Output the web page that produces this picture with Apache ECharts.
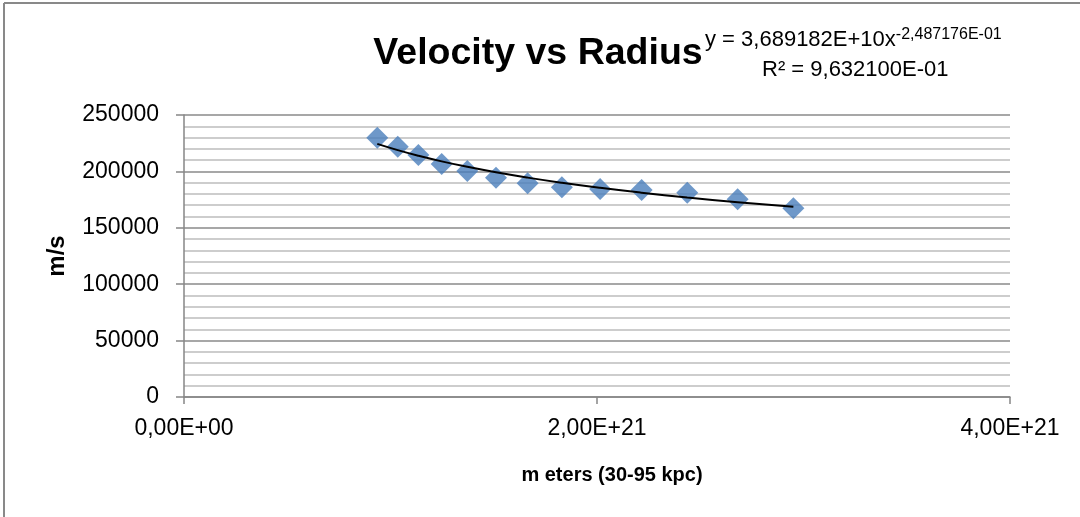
<!DOCTYPE html>
<html>
<head>
<meta charset="utf-8">
<script src="https://cdn.jsdelivr.net/npm/echarts@6/dist/echarts.min.js"></script>
<style>
html,body{margin:0;padding:0;background:#fff;}
#c{width:1080px;height:517px;}
</style>
</head>
<body>
<div id="c"></div>
<script>
// Data
var radiusMeters = [0.936e21, 1.035e21, 1.135e21, 1.248e21, 1.372e21, 1.511e21, 1.664e21, 1.830e21, 2.015e21, 2.216e21, 2.437e21, 2.681e21, 2.951e21];
var velocity = [229900, 221900, 214500, 206600, 200400, 194400, 189400, 185900, 184400, 183500, 181100, 175300, 167300];
var xTicks = [0, 2e21, 4e21];
var yTicks = [0, 50000, 100000, 150000, 200000, 250000];
// Power trendline coefficients as shown on the chart label
var trendA = 3.689182e10;
var trendB = -2.487176e-1;

var titleText = 'Velocity vs Radius';
var eqMain = 'y = 3,689182E+10x';
var eqSup = '-2,487176E-01';
var r2Text = 'R\u00b2 = 9,632100E-01';
var xName = 'm eters (30-95 kpc)';
var yName = 'm/s';

var points = radiusMeters.map(function (x, i) { return [x, velocity[i]]; });
var trend = radiusMeters.map(function (x) { return [x, trendA * Math.pow(x, trendB)]; });

function sci(v) {
  if (v === 0) return '0,00E+00';
  var e = Math.floor(Math.log10(Math.abs(v)) + 1e-9);
  var m = v / Math.pow(10, e);
  var es = (e < 0 ? '-' : '+') + (Math.abs(e) < 10 ? '0' : '') + Math.abs(e);
  return m.toFixed(2).replace('.', ',') + 'E' + es;
}

var FONT = 'Liberation Sans, Arial, sans-serif';
var chart = echarts.init(document.getElementById('c'), null, {renderer: 'canvas'});
chart.setOption({
  backgroundColor: '#ffffff',
  animation: false,
  grid: {left: 184, right: 70, top: 115, bottom: 120, containLabel: false, outerBoundsMode: 'none'},
  xAxis: {
    type: 'value',
    min: xTicks[0], max: xTicks[xTicks.length - 1], interval: xTicks[1] - xTicks[0],
    name: xName, nameLocation: 'middle', nameGap: 68,
    nameTextStyle: {fontFamily: FONT, fontSize: 20, fontWeight: 'bold', color: '#000', padding: [0, 0, 0, 30]},
    axisLine: {show: true, onZero: false, lineStyle: {color: '#868686', width: 1.5}},
    axisTick: {show: true, inside: false, length: 7, lineStyle: {color: '#868686', width: 1.5}},
    axisLabel: {fontFamily: FONT, fontSize: 23, color: '#000', margin: 20, formatter: sci},
    splitLine: {show: false}
  },
  yAxis: {
    type: 'value',
    min: yTicks[0], max: yTicks[yTicks.length - 1], interval: yTicks[1] - yTicks[0],
    name: yName, nameLocation: 'middle', nameGap: 115, nameRotate: 90,
    nameTextStyle: {fontFamily: FONT, fontSize: 24, fontWeight: 'bold', color: '#000'},
    axisLine: {show: true, onZero: false, lineStyle: {color: '#868686', width: 1.5}},
    axisTick: {show: true, inside: false, length: 8, lineStyle: {color: '#868686', width: 1.5}},
    axisLabel: {fontFamily: FONT, fontSize: 23, color: '#000', margin: 25, formatter: function (v) { return String(v); }},
    splitLine: {show: true, lineStyle: {color: '#8a8a8a', width: 1.5}},
    minorTick: {show: false, splitNumber: 5},
    minorSplitLine: {show: true, lineStyle: {color: '#bdbdbd', width: 1.5}}
  },
  series: [
    {
      type: 'scatter',
      data: points,
      symbol: 'diamond',
      symbolSize: 22,
      itemStyle: {color: '#4a7ebb'},
      z: 2
    },
    {
      type: 'line',
      data: trend,
      smooth: true,
      showSymbol: false,
      symbol: 'none',
      lineStyle: {color: '#000', width: 2},
      z: 3
    }
  ],
  graphic: [
    {type: 'line', shape: {x1: 4, y1: 3, x2: 4, y2: 517}, style: {stroke: '#898989', lineWidth: 2}, silent: true},
    {type: 'line', shape: {x1: 4, y1: 3, x2: 1080, y2: 3}, style: {stroke: '#898989', lineWidth: 2}, silent: true},
    {type: 'text', x: 538, y: 54, style: {text: titleText, font: 'bold 37.5px ' + FONT, fill: '#000', textAlign: 'center', textVerticalAlign: 'middle'}, z: 10},
    {type: 'text', x: 705, y: 27, z: 10, style: {
      text: '{a|' + eqMain + '}{b|' + eqSup + '}',
      textAlign: 'left', textVerticalAlign: 'top',
      rich: {
        a: {fontFamily: FONT, fontSize: 22, color: '#000', lineHeight: 24, verticalAlign: 'bottom'},
        b: {fontFamily: FONT, fontSize: 16, color: '#000', lineHeight: 24, verticalAlign: 'top'}
      }
    }},
    {type: 'text', x: 762, y: 70, z: 10, style: {text: r2Text, font: '22px ' + FONT, fill: '#000', textAlign: 'left', textVerticalAlign: 'middle'}}
  ]
});
</script>
</body>
</html>
